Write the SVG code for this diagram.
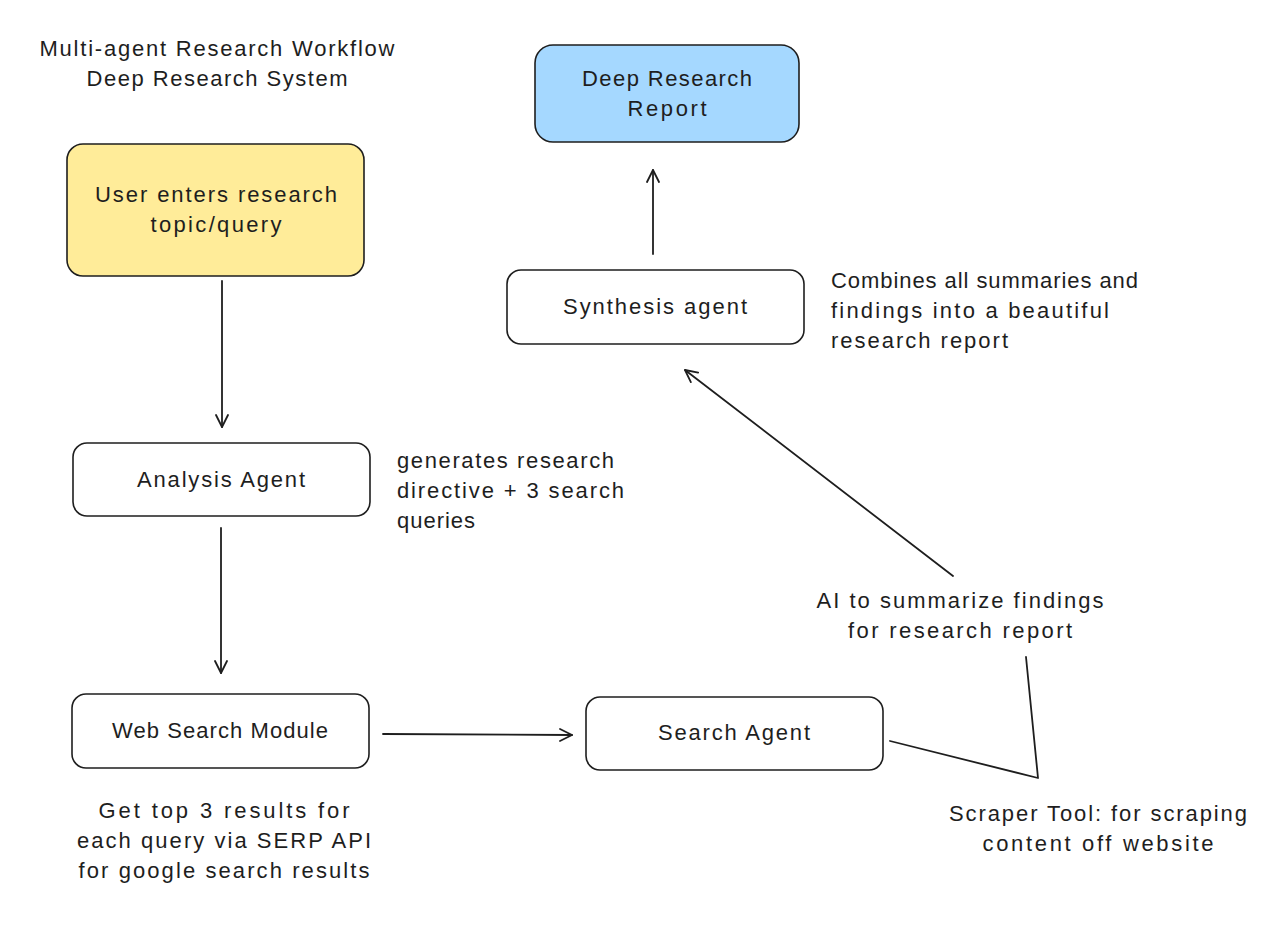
<svg xmlns="http://www.w3.org/2000/svg" width="1280" height="932" viewBox="0 0 1280 932">
<style>
.box{stroke:#1e1e1e;stroke-width:1.6;fill:#ffffff}
.yellow{fill:#ffec99}
.blue{fill:#a5d8ff}
.t{font-family:"Liberation Sans","DejaVu Sans",sans-serif;font-size:22px;fill:#1e1e1e}
.c{text-anchor:middle}
.edge{stroke:#1e1e1e;stroke-width:1.8;fill:none;stroke-linecap:round;stroke-linejoin:round}
</style>
<defs>
<marker id="arr" markerUnits="userSpaceOnUse" markerWidth="16" markerHeight="16" refX="13" refY="7" orient="auto" viewBox="0 0 16 14">
<path d="M1,1 L13,7 L1,13" fill="none" stroke="#1e1e1e" stroke-width="1.8" stroke-linecap="round" stroke-linejoin="round"/>
</marker>
</defs>
<rect width="1280" height="932" fill="#ffffff"/>

<g id="title">
<text class="t c" x="217" y="56" textLength="355">Multi-agent Research Workflow</text>
<text class="t c" x="217" y="86" textLength="261">Deep Research System</text>
</g>

<g id="connectors">
<line class="edge" x1="222" y1="281" x2="222" y2="427" marker-end="url(#arr)"/>
<line class="edge" x1="221" y1="528" x2="221" y2="673" marker-end="url(#arr)"/>
<line class="edge" x1="383" y1="734" x2="572" y2="735" marker-end="url(#arr)"/>
<line class="edge" x1="653" y1="254" x2="653" y2="170" marker-end="url(#arr)"/>
<polyline class="edge" points="890,741 1038,778 1026,657"/>
<line class="edge" x1="953" y1="576" x2="685" y2="370" marker-end="url(#arr)"/>
</g>

<g id="report">
<rect class="box blue" x="535" y="45" width="264" height="97" rx="18"/>
<text class="t c" x="667" y="86" textLength="170">Deep Research</text>
<text class="t c" x="667" y="116" textLength="79">Report</text>
</g>

<g id="user">
<rect class="box yellow" x="67" y="144" width="297" height="132" rx="16"/>
<text class="t c" x="216" y="202" textLength="242">User enters research</text>
<text class="t c" x="216" y="232" textLength="131">topic/query</text>
</g>

<g id="synthesis">
<rect class="box" x="507" y="270" width="297" height="74" rx="14"/>
<text class="t c" x="655" y="314" textLength="184">Synthesis agent</text>
</g>

<g id="analysis">
<rect class="box" x="73" y="443" width="297" height="73" rx="14"/>
<text class="t c" x="221" y="487" textLength="168">Analysis Agent</text>
</g>

<g id="websearch">
<rect class="box" x="72" y="694" width="297" height="74" rx="14"/>
<text class="t c" x="220" y="738" textLength="216">Web Search Module</text>
</g>

<g id="searchagent">
<rect class="box" x="586" y="697" width="297" height="73" rx="14"/>
<text class="t c" x="734" y="740" textLength="152">Search Agent</text>
</g>

<g id="note-synthesis">
<text class="t" x="831" y="288" textLength="307">Combines all summaries and</text>
<text class="t" x="831" y="318" textLength="278">findings into a beautiful</text>
<text class="t" x="831" y="348" textLength="177">research report</text>
</g>

<g id="note-analysis">
<text class="t" x="397" y="468" textLength="217">generates research</text>
<text class="t" x="397" y="498" textLength="227">directive + 3 search</text>
<text class="t" x="397" y="528" textLength="78">queries</text>
</g>

<g id="note-ai">
<text class="t c" x="960" y="608" textLength="287">AI to summarize findings</text>
<text class="t c" x="960" y="638" textLength="224">for research report</text>
</g>

<g id="note-web">
<text class="t c" x="224" y="818" textLength="251">Get top 3 results for</text>
<text class="t c" x="224" y="848" textLength="294">each query via SERP API</text>
<text class="t c" x="224" y="878" textLength="291">for google search results</text>
</g>

<g id="note-scraper">
<text class="t c" x="1098" y="821" textLength="298">Scraper Tool: for scraping</text>
<text class="t c" x="1098" y="851" textLength="231">content off website</text>
</g>
</svg>
